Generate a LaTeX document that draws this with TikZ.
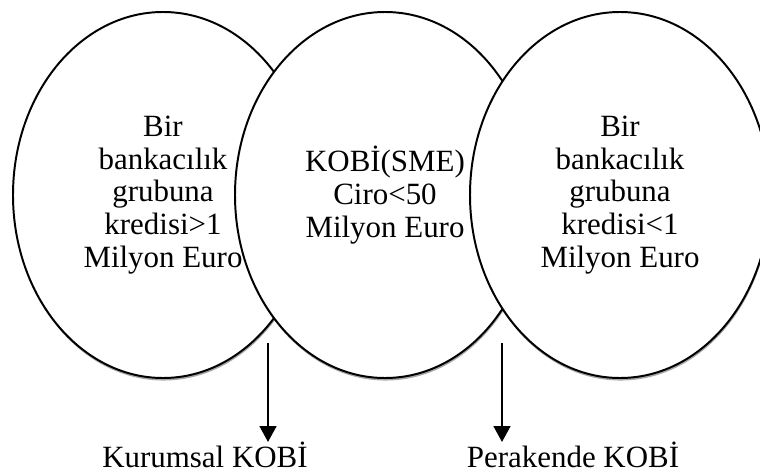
\documentclass[tikz,border=0pt]{standalone}
\usepackage{fontspec}
\setmainfont{Liberation Serif}
\usetikzlibrary{arrows.meta,shapes.geometric,shadows}
\tikzset{
         kume/.style=
          {
           ellipse,draw=black,line width=1.4pt,fill=white,
           minimum width=7.5cm,minimum height=9.15cm,inner sep=0pt,
           drop shadow={shadow xshift=.4pt,shadow yshift=-1.8pt,opacity=.35,fill=black}
          },
         kumetext/.style={align=center,inner sep=0pt,font=\fontsize{22}{23.4}\selectfont},
         kobi/.style={anchor=base,inner sep=0pt,font=\fontsize{22}{23.4}\selectfont},
         okline/.style={line width=1.6pt,-{Triangle[length=.4cm,width=.42cm]}}
        }
\begin{document}
\begin{tikzpicture}
\useasboundingbox(0,0)rectangle(19,11.8);
%sets
\node[kume](buyuk)at(4.075,6.925){};
\node[kume](sme)at(9.625,6.925){};
\node[kume](kucuk)at(15.5,6.925){};
%labels
\node[kumetext](buyuktext)at(buyuk.center){Bir\\bankacılık\\grubuna\\kredisi>1\\Milyon Euro};
\node[kumetext](smetext)at(sme.center){KOBİ(SME)\\Ciro<50\\Milyon Euro};
\node[kumetext](kucuktext)at(kucuk.center){Bir\\bankacılık\\grubuna\\kredisi<1\\Milyon Euro};
\node[kobi](kurumsal)at(5.125,.125){Kurumsal KOBİ};
\node[kobi](perakende)at(14.325,.125){Perakende KOBİ};
%arrows
\coordinate(kurumsalok)at(6.7,3.225);
\coordinate(perakendeok)at(12.55,3.225);
\draw[okline](kurumsalok)--(kurumsalok|-0,.75);
\draw[okline](perakendeok)--(perakendeok|-0,.75);
\end{tikzpicture}
\end{document}
